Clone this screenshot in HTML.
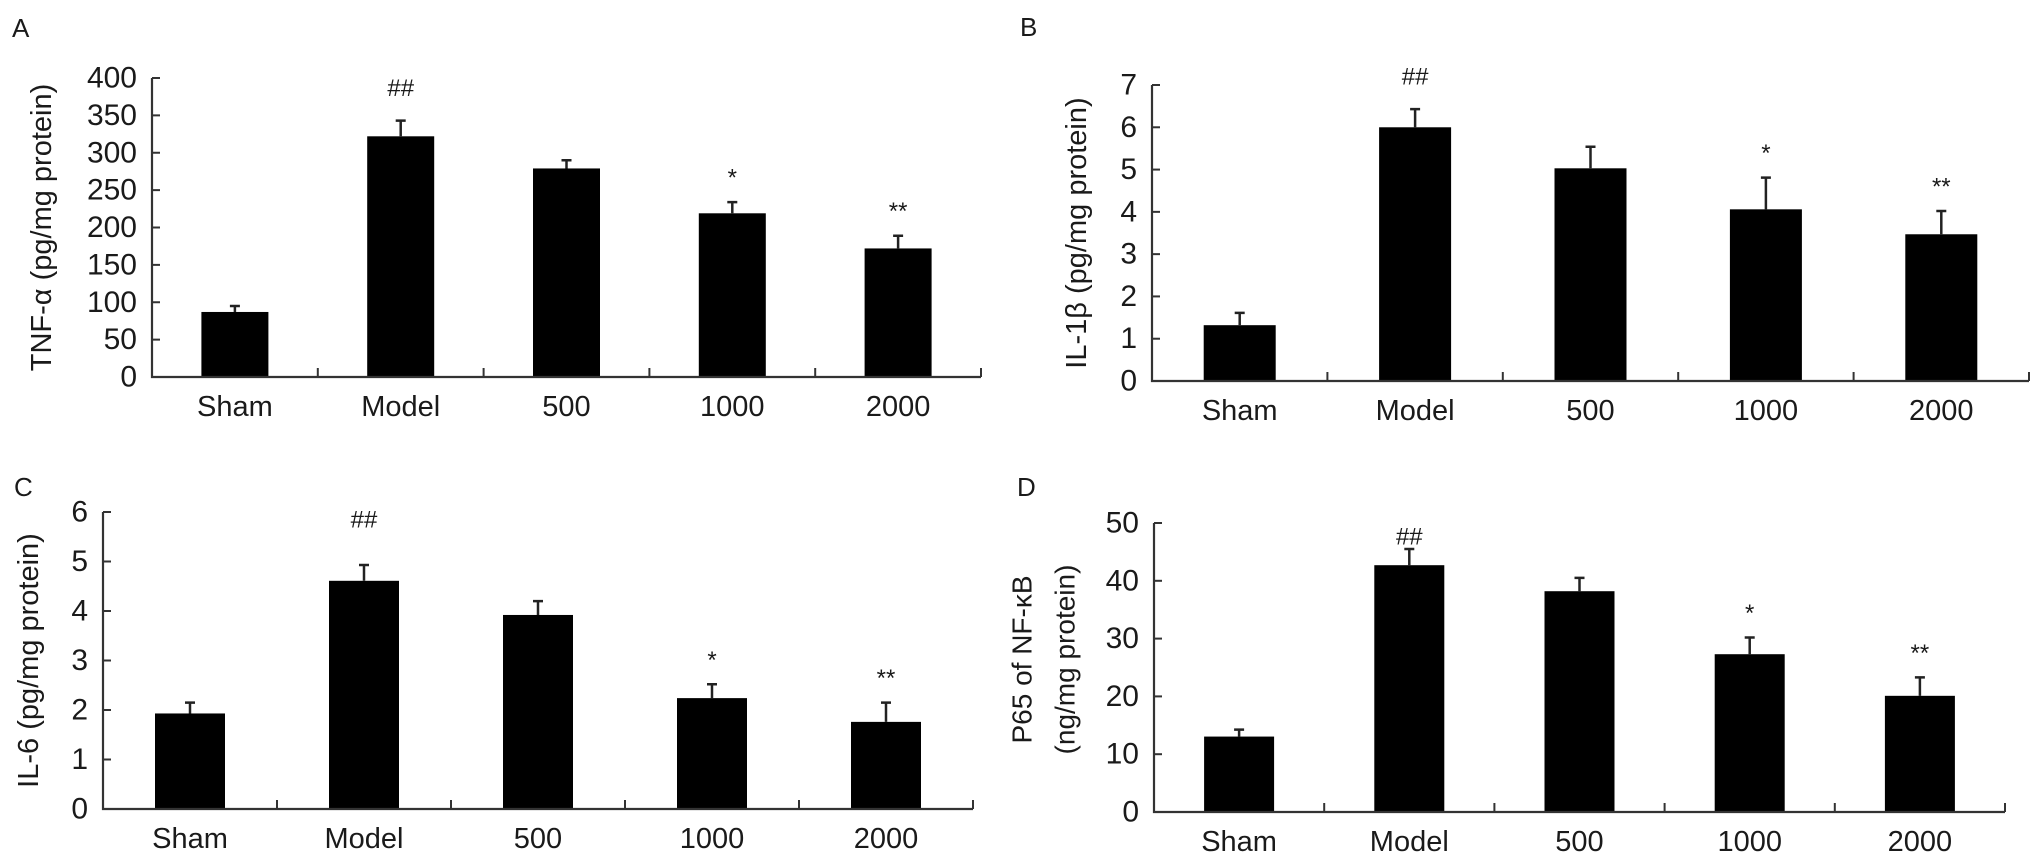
<!DOCTYPE html>
<html><head><meta charset="utf-8"><style>
html,body{margin:0;padding:0;background:#fff;}
svg{display:block;}
text{font-family:"Liberation Sans",Arial,sans-serif;fill:#1a1a1a;}
</style></head>
<body>
<svg id="fig" width="2031" height="864" viewBox="0 0 2031 864" xmlns="http://www.w3.org/2000/svg"></svg>
<script>
const categories = ["Sham", "Model", "500", "1000", "2000"];
const valuesA = [87, 322, 279, 219, 172];
const errorsA = [8, 21, 11, 15, 17];
const marksA = ["", "##", "", "*", "**"];
const ticksA = [0, 50, 100, 150, 200, 250, 300, 350, 400];
const valuesB = [1.32, 6.0, 5.03, 4.06, 3.47];
const errorsB = [0.29, 0.43, 0.51, 0.75, 0.55];
const marksB = ["", "##", "", "*", "**"];
const ticksB = [0, 1, 2, 3, 4, 5, 6, 7];
const valuesC = [1.93, 4.61, 3.92, 2.24, 1.76];
const errorsC = [0.22, 0.32, 0.28, 0.28, 0.39];
const marksC = ["", "##", "", "*", "**"];
const ticksC = [0, 1, 2, 3, 4, 5, 6];
const valuesD = [13.05, 42.7, 38.2, 27.3, 20.1];
const errorsD = [1.2, 2.8, 2.3, 2.9, 3.2];
const marksD = ["", "##", "", "*", "**"];
const ticksD = [0, 10, 20, 30, 40, 50];

const NS = "http://www.w3.org/2000/svg";
const svg = document.getElementById("fig");
function mk(tag, attrs, parent, txt) {
  const e = document.createElementNS(NS, tag);
  for (const k in attrs) e.setAttribute(k, attrs[k]);
  if (txt !== undefined) e.textContent = txt;
  parent.appendChild(e);
  return e;
}

function panel(p, vals, errs, marks, ticks) {
  const g = mk("g", {}, svg);
  
  
  const ymax = ticks[ticks.length - 1];
  const y = v => p.y0 - (v / ymax) * (p.y0 - p.yTop);
  const step = (p.x1 - p.x0) / categories.length;
  const xc = i => p.x0 + step * (i + 0.5);

  const lab = mk("text", {x: p.lx, y: p.ly, "font-size": 26, "dominant-baseline": "central"}, g, p.id);
  
  

  // bars
  vals.forEach((v, i) => {
    const r = mk("rect", {x: xc(i) - p.bw / 2, y: y(v), width: p.bw, height: p.y0 - y(v), fill: "#000"}, g);
    
    
    const et = y(v + errs[i]);
    const eb = mk("path", {d: `M${xc(i)} ${y(v)}V${et}M${xc(i) - 5} ${et}H${xc(i) + 5}`, stroke: "#222", "stroke-width": 2.5, fill: "none"}, g);
    
    
    if (marks[i]) {
      const my = marks[i] === "##" ? y(v + errs[i]) - p.hashOff : y(v + errs[i]) - 24;
      const t = mk("text", {x: xc(i), y: my, "font-size": 24, "text-anchor": "middle", "dominant-baseline": "central"}, g, marks[i]);
      
      
    }
  });

  // axes
  const ax = mk("path", {d: `M${p.x0} ${p.yTop}V${p.y0}H${p.x1}`, stroke: "#333", "stroke-width": 2.2, fill: "none"}, g);
  
  
  ticks.forEach(t => {
    mk("line", {x1: p.x0, x2: p.x0 + 8, y1: y(t), y2: y(t), stroke: "#333", "stroke-width": 2}, g);
    const tl = mk("text", {x: p.x0 - 15, y: y(t), "font-size": 30, "text-anchor": "end", "dominant-baseline": "central"}, g, String(t));
    
    
  });
  for (let i = 1; i <= categories.length; i++) {
    const tx = p.x0 + step * i;
    mk("line", {x1: tx, x2: tx, y1: p.y0, y2: p.y0 - 9, stroke: "#333", "stroke-width": 2}, g);
  }
  categories.forEach((c, i) => {
    const t = mk("text", {x: xc(i), y: p.y0 + 30, "font-size": 29, "text-anchor": "middle", "dominant-baseline": "central"}, g, c);
    
    
  });
  // y title
  p.titles.forEach((tt, k) => {
    const cx = p.tx[k], cy = (p.yTop + p.y0) / 2 + (p.tyOff || 0);
    const t = mk("text", {x: cx, y: cy, "font-size": p.tfs, "text-anchor": "middle", "dominant-baseline": "central", transform: `rotate(-90 ${cx} ${cy})`}, g, tt);
    
    
  });
}

panel({id: "A", x0: 152, x1: 981, y0: 377, yTop: 78, bw: 67, lx: 12, ly: 28, hashOff: 32, titles: ["TNF-α (pg/mg protein)"], tx: [42], tfs: 29}, valuesA, errorsA, marksA, ticksA);
panel({id: "B", x0: 1152, x1: 2029, y0: 381, yTop: 85, bw: 72, lx: 1020, ly: 27, hashOff: 32, titles: ["IL-1β (pg/mg protein)"], tx: [1077], tfs: 29}, valuesB, errorsB, marksB, ticksB);
panel({id: "C", x0: 103, x1: 973, y0: 809, yTop: 512, bw: 70, lx: 14, ly: 487, hashOff: 45, titles: ["IL-6 (pg/mg protein)"], tx: [29], tfs: 29}, valuesC, errorsC, marksC, ticksC);
panel({id: "D", x0: 1154, x1: 2005, y0: 812, yTop: 523, bw: 70, lx: 1017, ly: 487, hashOff: 12, titles: ["P65 of NF-κB", "(ng/mg protein)"], tx: [1022, 1065], tfs: 28, tyOff: -8}, valuesD, errorsD, marksD, ticksD);
</script>
</body></html>
